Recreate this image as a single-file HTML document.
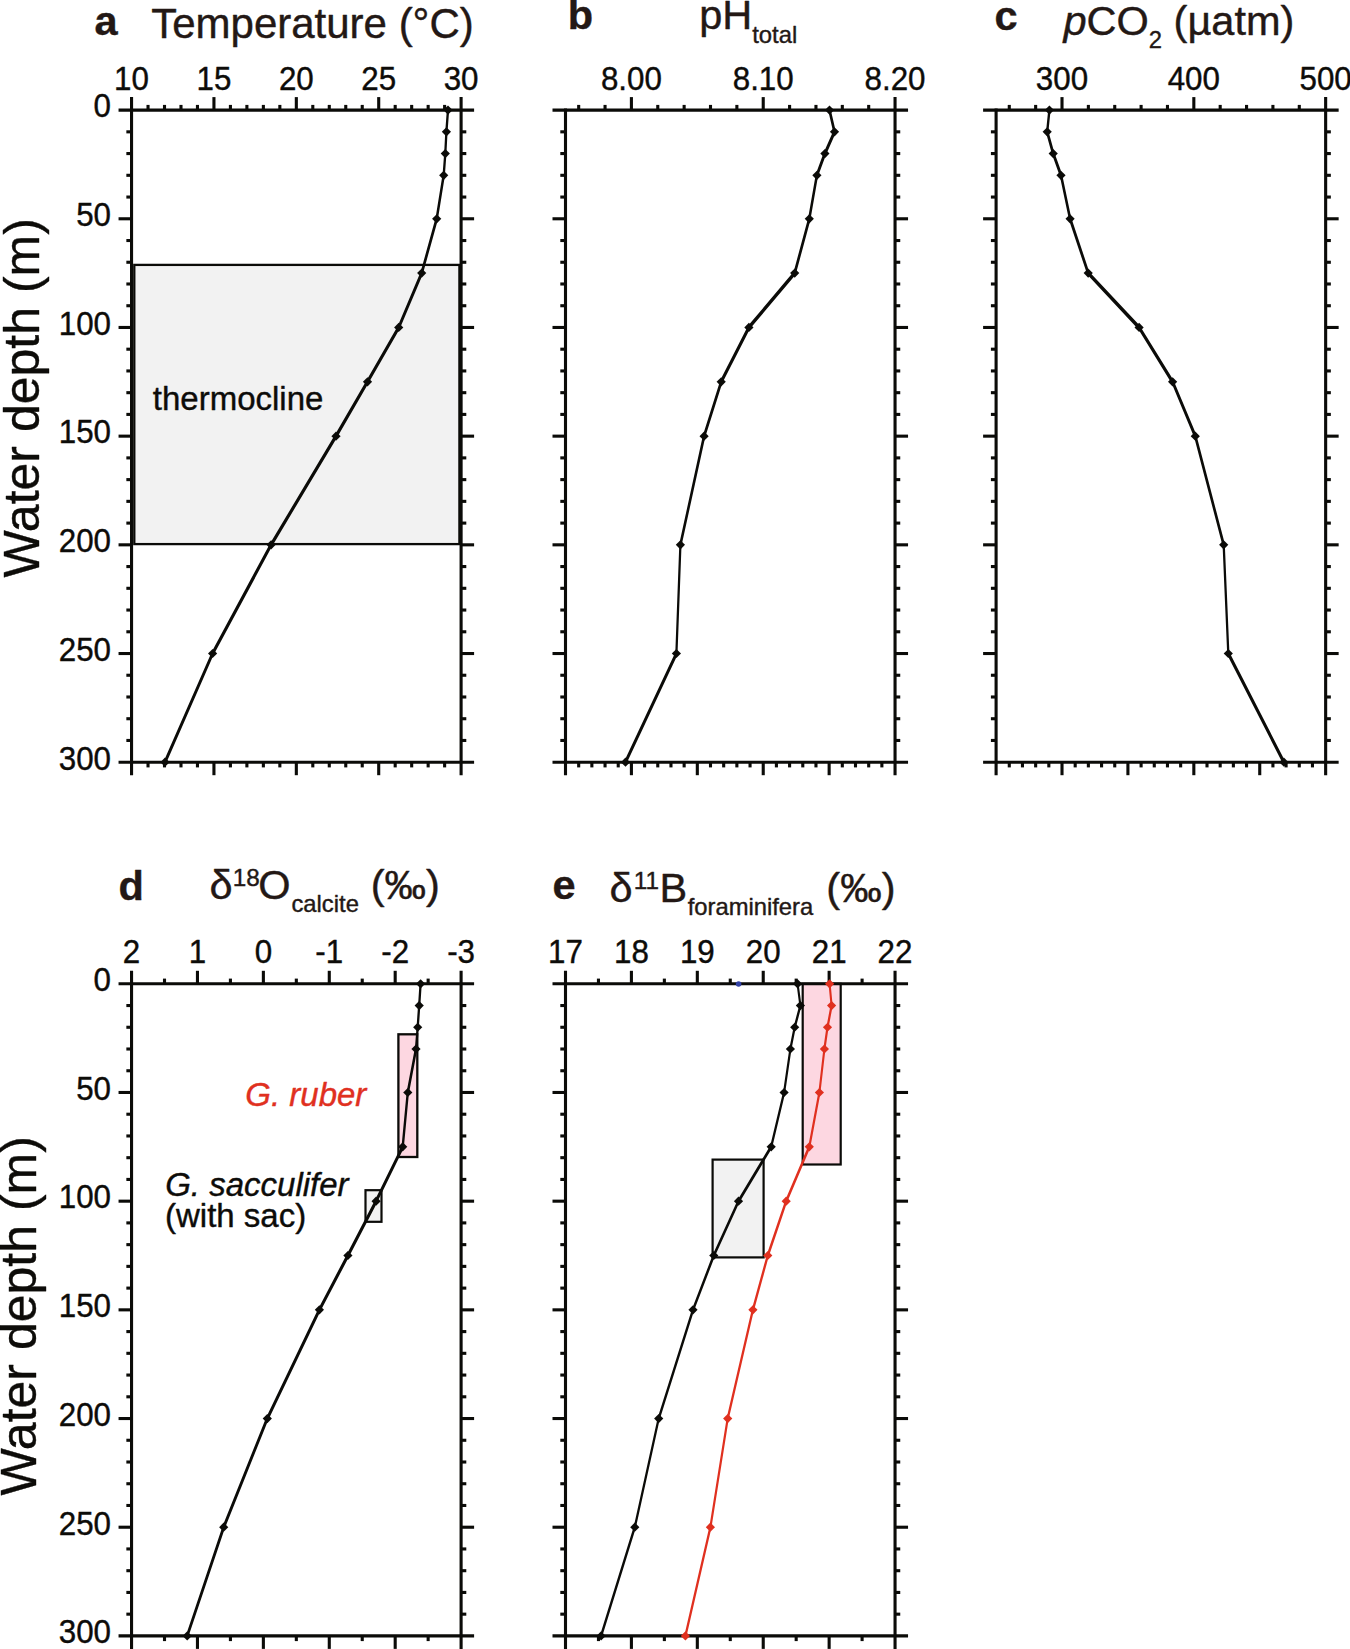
<!DOCTYPE html>
<html lang="en">
<head>
<meta charset="utf-8">
<title>Water column profiles</title>
<style>html,body{margin:0;padding:0;background:#fff}svg{display:block}text{stroke-width:0.4px;stroke-linejoin:round}</style>
</head>
<body>
<svg width="1350" height="1649" viewBox="0 0 1350 1649" font-family="'Liberation Sans', sans-serif">
<rect width="1350" height="1649" fill="#ffffff"/>
<rect x="134.3" y="264.9" width="325.1" height="279.2" fill="#f2f2f2" stroke="#0b0b08" stroke-width="2.3"/>
<rect x="398.4" y="1034.3" width="18.9" height="122.7" fill="#fdd7e1" stroke="#0b0b08" stroke-width="2.3"/>
<rect x="365.5" y="1190.2" width="16" height="31.6" fill="#f2f2f2" stroke="#0b0b08" stroke-width="2.2"/>
<rect x="802.7" y="983.8" width="38" height="180.7" fill="#fdd7e1" stroke="#0b0b08" stroke-width="2.2"/>
<rect x="712.6" y="1159.6" width="51" height="97.8" fill="#f2f2f2" stroke="#0b0b08" stroke-width="2.2"/>
<line x1="118.55" y1="110.1" x2="474.1" y2="110.1" stroke="#0b0b08" stroke-width="3.1"/>
<line x1="118.55" y1="762.2" x2="474.1" y2="762.2" stroke="#0b0b08" stroke-width="3.1"/>
<line x1="131.55" y1="97.1" x2="131.55" y2="775.2" stroke="#0b0b08" stroke-width="3.1"/>
<line x1="461.1" y1="97.1" x2="461.1" y2="775.2" stroke="#0b0b08" stroke-width="3.1"/>
<line x1="213.94" y1="97.1" x2="213.94" y2="110.1" stroke="#0b0b08" stroke-width="3.1"/>
<line x1="296.33" y1="97.1" x2="296.33" y2="110.1" stroke="#0b0b08" stroke-width="3.1"/>
<line x1="378.71" y1="97.1" x2="378.71" y2="110.1" stroke="#0b0b08" stroke-width="3.1"/>
<line x1="148.03" y1="104.9" x2="148.03" y2="110.1" stroke="#0b0b08" stroke-width="3.1"/>
<line x1="164.51" y1="104.9" x2="164.51" y2="110.1" stroke="#0b0b08" stroke-width="3.1"/>
<line x1="180.98" y1="104.9" x2="180.98" y2="110.1" stroke="#0b0b08" stroke-width="3.1"/>
<line x1="197.46" y1="104.9" x2="197.46" y2="110.1" stroke="#0b0b08" stroke-width="3.1"/>
<line x1="230.42" y1="104.9" x2="230.42" y2="110.1" stroke="#0b0b08" stroke-width="3.1"/>
<line x1="246.89" y1="104.9" x2="246.89" y2="110.1" stroke="#0b0b08" stroke-width="3.1"/>
<line x1="263.37" y1="104.9" x2="263.37" y2="110.1" stroke="#0b0b08" stroke-width="3.1"/>
<line x1="279.85" y1="104.9" x2="279.85" y2="110.1" stroke="#0b0b08" stroke-width="3.1"/>
<line x1="312.8" y1="104.9" x2="312.8" y2="110.1" stroke="#0b0b08" stroke-width="3.1"/>
<line x1="329.28" y1="104.9" x2="329.28" y2="110.1" stroke="#0b0b08" stroke-width="3.1"/>
<line x1="345.76" y1="104.9" x2="345.76" y2="110.1" stroke="#0b0b08" stroke-width="3.1"/>
<line x1="362.24" y1="104.9" x2="362.24" y2="110.1" stroke="#0b0b08" stroke-width="3.1"/>
<line x1="395.19" y1="104.9" x2="395.19" y2="110.1" stroke="#0b0b08" stroke-width="3.1"/>
<line x1="411.67" y1="104.9" x2="411.67" y2="110.1" stroke="#0b0b08" stroke-width="3.1"/>
<line x1="428.15" y1="104.9" x2="428.15" y2="110.1" stroke="#0b0b08" stroke-width="3.1"/>
<line x1="444.62" y1="104.9" x2="444.62" y2="110.1" stroke="#0b0b08" stroke-width="3.1"/>
<line x1="213.94" y1="762.2" x2="213.94" y2="775.2" stroke="#0b0b08" stroke-width="3.1"/>
<line x1="296.33" y1="762.2" x2="296.33" y2="775.2" stroke="#0b0b08" stroke-width="3.1"/>
<line x1="378.71" y1="762.2" x2="378.71" y2="775.2" stroke="#0b0b08" stroke-width="3.1"/>
<line x1="148.03" y1="762.2" x2="148.03" y2="767.4" stroke="#0b0b08" stroke-width="3.1"/>
<line x1="164.51" y1="762.2" x2="164.51" y2="767.4" stroke="#0b0b08" stroke-width="3.1"/>
<line x1="180.98" y1="762.2" x2="180.98" y2="767.4" stroke="#0b0b08" stroke-width="3.1"/>
<line x1="197.46" y1="762.2" x2="197.46" y2="767.4" stroke="#0b0b08" stroke-width="3.1"/>
<line x1="230.42" y1="762.2" x2="230.42" y2="767.4" stroke="#0b0b08" stroke-width="3.1"/>
<line x1="246.89" y1="762.2" x2="246.89" y2="767.4" stroke="#0b0b08" stroke-width="3.1"/>
<line x1="263.37" y1="762.2" x2="263.37" y2="767.4" stroke="#0b0b08" stroke-width="3.1"/>
<line x1="279.85" y1="762.2" x2="279.85" y2="767.4" stroke="#0b0b08" stroke-width="3.1"/>
<line x1="312.8" y1="762.2" x2="312.8" y2="767.4" stroke="#0b0b08" stroke-width="3.1"/>
<line x1="329.28" y1="762.2" x2="329.28" y2="767.4" stroke="#0b0b08" stroke-width="3.1"/>
<line x1="345.76" y1="762.2" x2="345.76" y2="767.4" stroke="#0b0b08" stroke-width="3.1"/>
<line x1="362.24" y1="762.2" x2="362.24" y2="767.4" stroke="#0b0b08" stroke-width="3.1"/>
<line x1="395.19" y1="762.2" x2="395.19" y2="767.4" stroke="#0b0b08" stroke-width="3.1"/>
<line x1="411.67" y1="762.2" x2="411.67" y2="767.4" stroke="#0b0b08" stroke-width="3.1"/>
<line x1="428.15" y1="762.2" x2="428.15" y2="767.4" stroke="#0b0b08" stroke-width="3.1"/>
<line x1="444.62" y1="762.2" x2="444.62" y2="767.4" stroke="#0b0b08" stroke-width="3.1"/>
<line x1="126.35" y1="131.84" x2="131.55" y2="131.84" stroke="#0b0b08" stroke-width="3.1"/>
<line x1="461.1" y1="131.84" x2="466.3" y2="131.84" stroke="#0b0b08" stroke-width="3.1"/>
<line x1="126.35" y1="153.57" x2="131.55" y2="153.57" stroke="#0b0b08" stroke-width="3.1"/>
<line x1="461.1" y1="153.57" x2="466.3" y2="153.57" stroke="#0b0b08" stroke-width="3.1"/>
<line x1="126.35" y1="175.31" x2="131.55" y2="175.31" stroke="#0b0b08" stroke-width="3.1"/>
<line x1="461.1" y1="175.31" x2="466.3" y2="175.31" stroke="#0b0b08" stroke-width="3.1"/>
<line x1="126.35" y1="197.05" x2="131.55" y2="197.05" stroke="#0b0b08" stroke-width="3.1"/>
<line x1="461.1" y1="197.05" x2="466.3" y2="197.05" stroke="#0b0b08" stroke-width="3.1"/>
<line x1="118.55" y1="218.78" x2="131.55" y2="218.78" stroke="#0b0b08" stroke-width="3.1"/>
<line x1="461.1" y1="218.78" x2="474.1" y2="218.78" stroke="#0b0b08" stroke-width="3.1"/>
<line x1="126.35" y1="240.52" x2="131.55" y2="240.52" stroke="#0b0b08" stroke-width="3.1"/>
<line x1="461.1" y1="240.52" x2="466.3" y2="240.52" stroke="#0b0b08" stroke-width="3.1"/>
<line x1="126.35" y1="262.26" x2="131.55" y2="262.26" stroke="#0b0b08" stroke-width="3.1"/>
<line x1="461.1" y1="262.26" x2="466.3" y2="262.26" stroke="#0b0b08" stroke-width="3.1"/>
<line x1="126.35" y1="283.99" x2="131.55" y2="283.99" stroke="#0b0b08" stroke-width="3.1"/>
<line x1="461.1" y1="283.99" x2="466.3" y2="283.99" stroke="#0b0b08" stroke-width="3.1"/>
<line x1="126.35" y1="305.73" x2="131.55" y2="305.73" stroke="#0b0b08" stroke-width="3.1"/>
<line x1="461.1" y1="305.73" x2="466.3" y2="305.73" stroke="#0b0b08" stroke-width="3.1"/>
<line x1="118.55" y1="327.47" x2="131.55" y2="327.47" stroke="#0b0b08" stroke-width="3.1"/>
<line x1="461.1" y1="327.47" x2="474.1" y2="327.47" stroke="#0b0b08" stroke-width="3.1"/>
<line x1="126.35" y1="349.2" x2="131.55" y2="349.2" stroke="#0b0b08" stroke-width="3.1"/>
<line x1="461.1" y1="349.2" x2="466.3" y2="349.2" stroke="#0b0b08" stroke-width="3.1"/>
<line x1="126.35" y1="370.94" x2="131.55" y2="370.94" stroke="#0b0b08" stroke-width="3.1"/>
<line x1="461.1" y1="370.94" x2="466.3" y2="370.94" stroke="#0b0b08" stroke-width="3.1"/>
<line x1="126.35" y1="392.68" x2="131.55" y2="392.68" stroke="#0b0b08" stroke-width="3.1"/>
<line x1="461.1" y1="392.68" x2="466.3" y2="392.68" stroke="#0b0b08" stroke-width="3.1"/>
<line x1="126.35" y1="414.41" x2="131.55" y2="414.41" stroke="#0b0b08" stroke-width="3.1"/>
<line x1="461.1" y1="414.41" x2="466.3" y2="414.41" stroke="#0b0b08" stroke-width="3.1"/>
<line x1="118.55" y1="436.15" x2="131.55" y2="436.15" stroke="#0b0b08" stroke-width="3.1"/>
<line x1="461.1" y1="436.15" x2="474.1" y2="436.15" stroke="#0b0b08" stroke-width="3.1"/>
<line x1="126.35" y1="457.89" x2="131.55" y2="457.89" stroke="#0b0b08" stroke-width="3.1"/>
<line x1="461.1" y1="457.89" x2="466.3" y2="457.89" stroke="#0b0b08" stroke-width="3.1"/>
<line x1="126.35" y1="479.62" x2="131.55" y2="479.62" stroke="#0b0b08" stroke-width="3.1"/>
<line x1="461.1" y1="479.62" x2="466.3" y2="479.62" stroke="#0b0b08" stroke-width="3.1"/>
<line x1="126.35" y1="501.36" x2="131.55" y2="501.36" stroke="#0b0b08" stroke-width="3.1"/>
<line x1="461.1" y1="501.36" x2="466.3" y2="501.36" stroke="#0b0b08" stroke-width="3.1"/>
<line x1="126.35" y1="523.1" x2="131.55" y2="523.1" stroke="#0b0b08" stroke-width="3.1"/>
<line x1="461.1" y1="523.1" x2="466.3" y2="523.1" stroke="#0b0b08" stroke-width="3.1"/>
<line x1="118.55" y1="544.83" x2="131.55" y2="544.83" stroke="#0b0b08" stroke-width="3.1"/>
<line x1="461.1" y1="544.83" x2="474.1" y2="544.83" stroke="#0b0b08" stroke-width="3.1"/>
<line x1="126.35" y1="566.57" x2="131.55" y2="566.57" stroke="#0b0b08" stroke-width="3.1"/>
<line x1="461.1" y1="566.57" x2="466.3" y2="566.57" stroke="#0b0b08" stroke-width="3.1"/>
<line x1="126.35" y1="588.31" x2="131.55" y2="588.31" stroke="#0b0b08" stroke-width="3.1"/>
<line x1="461.1" y1="588.31" x2="466.3" y2="588.31" stroke="#0b0b08" stroke-width="3.1"/>
<line x1="126.35" y1="610.04" x2="131.55" y2="610.04" stroke="#0b0b08" stroke-width="3.1"/>
<line x1="461.1" y1="610.04" x2="466.3" y2="610.04" stroke="#0b0b08" stroke-width="3.1"/>
<line x1="126.35" y1="631.78" x2="131.55" y2="631.78" stroke="#0b0b08" stroke-width="3.1"/>
<line x1="461.1" y1="631.78" x2="466.3" y2="631.78" stroke="#0b0b08" stroke-width="3.1"/>
<line x1="118.55" y1="653.52" x2="131.55" y2="653.52" stroke="#0b0b08" stroke-width="3.1"/>
<line x1="461.1" y1="653.52" x2="474.1" y2="653.52" stroke="#0b0b08" stroke-width="3.1"/>
<line x1="126.35" y1="675.25" x2="131.55" y2="675.25" stroke="#0b0b08" stroke-width="3.1"/>
<line x1="461.1" y1="675.25" x2="466.3" y2="675.25" stroke="#0b0b08" stroke-width="3.1"/>
<line x1="126.35" y1="696.99" x2="131.55" y2="696.99" stroke="#0b0b08" stroke-width="3.1"/>
<line x1="461.1" y1="696.99" x2="466.3" y2="696.99" stroke="#0b0b08" stroke-width="3.1"/>
<line x1="126.35" y1="718.73" x2="131.55" y2="718.73" stroke="#0b0b08" stroke-width="3.1"/>
<line x1="461.1" y1="718.73" x2="466.3" y2="718.73" stroke="#0b0b08" stroke-width="3.1"/>
<line x1="126.35" y1="740.46" x2="131.55" y2="740.46" stroke="#0b0b08" stroke-width="3.1"/>
<line x1="461.1" y1="740.46" x2="466.3" y2="740.46" stroke="#0b0b08" stroke-width="3.1"/>
<text transform="translate(131.55 89.7) scale(0.95 1)" text-anchor="middle" font-size="33" fill="#0d0c09" stroke="#0d0c09">10</text>
<text transform="translate(213.94 89.7) scale(0.95 1)" text-anchor="middle" font-size="33" fill="#0d0c09" stroke="#0d0c09">15</text>
<text transform="translate(296.33 89.7) scale(0.95 1)" text-anchor="middle" font-size="33" fill="#0d0c09" stroke="#0d0c09">20</text>
<text transform="translate(378.71 89.7) scale(0.95 1)" text-anchor="middle" font-size="33" fill="#0d0c09" stroke="#0d0c09">25</text>
<text transform="translate(461.1 89.7) scale(0.95 1)" text-anchor="middle" font-size="33" fill="#0d0c09" stroke="#0d0c09">30</text>
<text transform="translate(111 117.4) scale(0.95 1)" text-anchor="end" font-size="33" fill="#0d0c09" stroke="#0d0c09">0</text>
<text transform="translate(111 226.08) scale(0.95 1)" text-anchor="end" font-size="33" fill="#0d0c09" stroke="#0d0c09">50</text>
<text transform="translate(111 334.77) scale(0.95 1)" text-anchor="end" font-size="33" fill="#0d0c09" stroke="#0d0c09">100</text>
<text transform="translate(111 443.45) scale(0.95 1)" text-anchor="end" font-size="33" fill="#0d0c09" stroke="#0d0c09">150</text>
<text transform="translate(111 552.13) scale(0.95 1)" text-anchor="end" font-size="33" fill="#0d0c09" stroke="#0d0c09">200</text>
<text transform="translate(111 660.82) scale(0.95 1)" text-anchor="end" font-size="33" fill="#0d0c09" stroke="#0d0c09">250</text>
<text transform="translate(111 769.5) scale(0.95 1)" text-anchor="end" font-size="33" fill="#0d0c09" stroke="#0d0c09">300</text>
<line x1="552.5" y1="110.1" x2="908.05" y2="110.1" stroke="#0b0b08" stroke-width="3.1"/>
<line x1="552.5" y1="762.2" x2="908.05" y2="762.2" stroke="#0b0b08" stroke-width="3.1"/>
<line x1="565.5" y1="108.55" x2="565.5" y2="775.2" stroke="#0b0b08" stroke-width="3.1"/>
<line x1="895.05" y1="97.1" x2="895.05" y2="775.2" stroke="#0b0b08" stroke-width="3.1"/>
<line x1="631.41" y1="97.1" x2="631.41" y2="110.1" stroke="#0b0b08" stroke-width="3.1"/>
<line x1="763.23" y1="97.1" x2="763.23" y2="110.1" stroke="#0b0b08" stroke-width="3.1"/>
<line x1="578.68" y1="104.9" x2="578.68" y2="110.1" stroke="#0b0b08" stroke-width="3.1"/>
<line x1="605.05" y1="104.9" x2="605.05" y2="110.1" stroke="#0b0b08" stroke-width="3.1"/>
<line x1="657.77" y1="104.9" x2="657.77" y2="110.1" stroke="#0b0b08" stroke-width="3.1"/>
<line x1="684.14" y1="104.9" x2="684.14" y2="110.1" stroke="#0b0b08" stroke-width="3.1"/>
<line x1="710.5" y1="104.9" x2="710.5" y2="110.1" stroke="#0b0b08" stroke-width="3.1"/>
<line x1="736.87" y1="104.9" x2="736.87" y2="110.1" stroke="#0b0b08" stroke-width="3.1"/>
<line x1="789.59" y1="104.9" x2="789.59" y2="110.1" stroke="#0b0b08" stroke-width="3.1"/>
<line x1="815.96" y1="104.9" x2="815.96" y2="110.1" stroke="#0b0b08" stroke-width="3.1"/>
<line x1="842.32" y1="104.9" x2="842.32" y2="110.1" stroke="#0b0b08" stroke-width="3.1"/>
<line x1="868.69" y1="104.9" x2="868.69" y2="110.1" stroke="#0b0b08" stroke-width="3.1"/>
<line x1="631.41" y1="762.2" x2="631.41" y2="775.2" stroke="#0b0b08" stroke-width="3.1"/>
<line x1="697.32" y1="762.2" x2="697.32" y2="775.2" stroke="#0b0b08" stroke-width="3.1"/>
<line x1="763.23" y1="762.2" x2="763.23" y2="775.2" stroke="#0b0b08" stroke-width="3.1"/>
<line x1="829.14" y1="762.2" x2="829.14" y2="775.2" stroke="#0b0b08" stroke-width="3.1"/>
<line x1="578.68" y1="762.2" x2="578.68" y2="767.4" stroke="#0b0b08" stroke-width="3.1"/>
<line x1="591.86" y1="762.2" x2="591.86" y2="767.4" stroke="#0b0b08" stroke-width="3.1"/>
<line x1="605.05" y1="762.2" x2="605.05" y2="767.4" stroke="#0b0b08" stroke-width="3.1"/>
<line x1="618.23" y1="762.2" x2="618.23" y2="767.4" stroke="#0b0b08" stroke-width="3.1"/>
<line x1="644.59" y1="762.2" x2="644.59" y2="767.4" stroke="#0b0b08" stroke-width="3.1"/>
<line x1="657.77" y1="762.2" x2="657.77" y2="767.4" stroke="#0b0b08" stroke-width="3.1"/>
<line x1="670.96" y1="762.2" x2="670.96" y2="767.4" stroke="#0b0b08" stroke-width="3.1"/>
<line x1="684.14" y1="762.2" x2="684.14" y2="767.4" stroke="#0b0b08" stroke-width="3.1"/>
<line x1="710.5" y1="762.2" x2="710.5" y2="767.4" stroke="#0b0b08" stroke-width="3.1"/>
<line x1="723.68" y1="762.2" x2="723.68" y2="767.4" stroke="#0b0b08" stroke-width="3.1"/>
<line x1="736.87" y1="762.2" x2="736.87" y2="767.4" stroke="#0b0b08" stroke-width="3.1"/>
<line x1="750.05" y1="762.2" x2="750.05" y2="767.4" stroke="#0b0b08" stroke-width="3.1"/>
<line x1="776.41" y1="762.2" x2="776.41" y2="767.4" stroke="#0b0b08" stroke-width="3.1"/>
<line x1="789.59" y1="762.2" x2="789.59" y2="767.4" stroke="#0b0b08" stroke-width="3.1"/>
<line x1="802.78" y1="762.2" x2="802.78" y2="767.4" stroke="#0b0b08" stroke-width="3.1"/>
<line x1="815.96" y1="762.2" x2="815.96" y2="767.4" stroke="#0b0b08" stroke-width="3.1"/>
<line x1="842.32" y1="762.2" x2="842.32" y2="767.4" stroke="#0b0b08" stroke-width="3.1"/>
<line x1="855.5" y1="762.2" x2="855.5" y2="767.4" stroke="#0b0b08" stroke-width="3.1"/>
<line x1="868.69" y1="762.2" x2="868.69" y2="767.4" stroke="#0b0b08" stroke-width="3.1"/>
<line x1="881.87" y1="762.2" x2="881.87" y2="767.4" stroke="#0b0b08" stroke-width="3.1"/>
<line x1="560.3" y1="131.84" x2="565.5" y2="131.84" stroke="#0b0b08" stroke-width="3.1"/>
<line x1="895.05" y1="131.84" x2="900.25" y2="131.84" stroke="#0b0b08" stroke-width="3.1"/>
<line x1="560.3" y1="153.57" x2="565.5" y2="153.57" stroke="#0b0b08" stroke-width="3.1"/>
<line x1="895.05" y1="153.57" x2="900.25" y2="153.57" stroke="#0b0b08" stroke-width="3.1"/>
<line x1="560.3" y1="175.31" x2="565.5" y2="175.31" stroke="#0b0b08" stroke-width="3.1"/>
<line x1="895.05" y1="175.31" x2="900.25" y2="175.31" stroke="#0b0b08" stroke-width="3.1"/>
<line x1="560.3" y1="197.05" x2="565.5" y2="197.05" stroke="#0b0b08" stroke-width="3.1"/>
<line x1="895.05" y1="197.05" x2="900.25" y2="197.05" stroke="#0b0b08" stroke-width="3.1"/>
<line x1="552.5" y1="218.78" x2="565.5" y2="218.78" stroke="#0b0b08" stroke-width="3.1"/>
<line x1="895.05" y1="218.78" x2="908.05" y2="218.78" stroke="#0b0b08" stroke-width="3.1"/>
<line x1="560.3" y1="240.52" x2="565.5" y2="240.52" stroke="#0b0b08" stroke-width="3.1"/>
<line x1="895.05" y1="240.52" x2="900.25" y2="240.52" stroke="#0b0b08" stroke-width="3.1"/>
<line x1="560.3" y1="262.26" x2="565.5" y2="262.26" stroke="#0b0b08" stroke-width="3.1"/>
<line x1="895.05" y1="262.26" x2="900.25" y2="262.26" stroke="#0b0b08" stroke-width="3.1"/>
<line x1="560.3" y1="283.99" x2="565.5" y2="283.99" stroke="#0b0b08" stroke-width="3.1"/>
<line x1="895.05" y1="283.99" x2="900.25" y2="283.99" stroke="#0b0b08" stroke-width="3.1"/>
<line x1="560.3" y1="305.73" x2="565.5" y2="305.73" stroke="#0b0b08" stroke-width="3.1"/>
<line x1="895.05" y1="305.73" x2="900.25" y2="305.73" stroke="#0b0b08" stroke-width="3.1"/>
<line x1="552.5" y1="327.47" x2="565.5" y2="327.47" stroke="#0b0b08" stroke-width="3.1"/>
<line x1="895.05" y1="327.47" x2="908.05" y2="327.47" stroke="#0b0b08" stroke-width="3.1"/>
<line x1="560.3" y1="349.2" x2="565.5" y2="349.2" stroke="#0b0b08" stroke-width="3.1"/>
<line x1="895.05" y1="349.2" x2="900.25" y2="349.2" stroke="#0b0b08" stroke-width="3.1"/>
<line x1="560.3" y1="370.94" x2="565.5" y2="370.94" stroke="#0b0b08" stroke-width="3.1"/>
<line x1="895.05" y1="370.94" x2="900.25" y2="370.94" stroke="#0b0b08" stroke-width="3.1"/>
<line x1="560.3" y1="392.68" x2="565.5" y2="392.68" stroke="#0b0b08" stroke-width="3.1"/>
<line x1="895.05" y1="392.68" x2="900.25" y2="392.68" stroke="#0b0b08" stroke-width="3.1"/>
<line x1="560.3" y1="414.41" x2="565.5" y2="414.41" stroke="#0b0b08" stroke-width="3.1"/>
<line x1="895.05" y1="414.41" x2="900.25" y2="414.41" stroke="#0b0b08" stroke-width="3.1"/>
<line x1="552.5" y1="436.15" x2="565.5" y2="436.15" stroke="#0b0b08" stroke-width="3.1"/>
<line x1="895.05" y1="436.15" x2="908.05" y2="436.15" stroke="#0b0b08" stroke-width="3.1"/>
<line x1="560.3" y1="457.89" x2="565.5" y2="457.89" stroke="#0b0b08" stroke-width="3.1"/>
<line x1="895.05" y1="457.89" x2="900.25" y2="457.89" stroke="#0b0b08" stroke-width="3.1"/>
<line x1="560.3" y1="479.62" x2="565.5" y2="479.62" stroke="#0b0b08" stroke-width="3.1"/>
<line x1="895.05" y1="479.62" x2="900.25" y2="479.62" stroke="#0b0b08" stroke-width="3.1"/>
<line x1="560.3" y1="501.36" x2="565.5" y2="501.36" stroke="#0b0b08" stroke-width="3.1"/>
<line x1="895.05" y1="501.36" x2="900.25" y2="501.36" stroke="#0b0b08" stroke-width="3.1"/>
<line x1="560.3" y1="523.1" x2="565.5" y2="523.1" stroke="#0b0b08" stroke-width="3.1"/>
<line x1="895.05" y1="523.1" x2="900.25" y2="523.1" stroke="#0b0b08" stroke-width="3.1"/>
<line x1="552.5" y1="544.83" x2="565.5" y2="544.83" stroke="#0b0b08" stroke-width="3.1"/>
<line x1="895.05" y1="544.83" x2="908.05" y2="544.83" stroke="#0b0b08" stroke-width="3.1"/>
<line x1="560.3" y1="566.57" x2="565.5" y2="566.57" stroke="#0b0b08" stroke-width="3.1"/>
<line x1="895.05" y1="566.57" x2="900.25" y2="566.57" stroke="#0b0b08" stroke-width="3.1"/>
<line x1="560.3" y1="588.31" x2="565.5" y2="588.31" stroke="#0b0b08" stroke-width="3.1"/>
<line x1="895.05" y1="588.31" x2="900.25" y2="588.31" stroke="#0b0b08" stroke-width="3.1"/>
<line x1="560.3" y1="610.04" x2="565.5" y2="610.04" stroke="#0b0b08" stroke-width="3.1"/>
<line x1="895.05" y1="610.04" x2="900.25" y2="610.04" stroke="#0b0b08" stroke-width="3.1"/>
<line x1="560.3" y1="631.78" x2="565.5" y2="631.78" stroke="#0b0b08" stroke-width="3.1"/>
<line x1="895.05" y1="631.78" x2="900.25" y2="631.78" stroke="#0b0b08" stroke-width="3.1"/>
<line x1="552.5" y1="653.52" x2="565.5" y2="653.52" stroke="#0b0b08" stroke-width="3.1"/>
<line x1="895.05" y1="653.52" x2="908.05" y2="653.52" stroke="#0b0b08" stroke-width="3.1"/>
<line x1="560.3" y1="675.25" x2="565.5" y2="675.25" stroke="#0b0b08" stroke-width="3.1"/>
<line x1="895.05" y1="675.25" x2="900.25" y2="675.25" stroke="#0b0b08" stroke-width="3.1"/>
<line x1="560.3" y1="696.99" x2="565.5" y2="696.99" stroke="#0b0b08" stroke-width="3.1"/>
<line x1="895.05" y1="696.99" x2="900.25" y2="696.99" stroke="#0b0b08" stroke-width="3.1"/>
<line x1="560.3" y1="718.73" x2="565.5" y2="718.73" stroke="#0b0b08" stroke-width="3.1"/>
<line x1="895.05" y1="718.73" x2="900.25" y2="718.73" stroke="#0b0b08" stroke-width="3.1"/>
<line x1="560.3" y1="740.46" x2="565.5" y2="740.46" stroke="#0b0b08" stroke-width="3.1"/>
<line x1="895.05" y1="740.46" x2="900.25" y2="740.46" stroke="#0b0b08" stroke-width="3.1"/>
<text transform="translate(631.41 89.7) scale(0.95 1)" text-anchor="middle" font-size="33" fill="#0d0c09" stroke="#0d0c09">8.00</text>
<text transform="translate(763.23 89.7) scale(0.95 1)" text-anchor="middle" font-size="33" fill="#0d0c09" stroke="#0d0c09">8.10</text>
<text transform="translate(895.05 89.7) scale(0.95 1)" text-anchor="middle" font-size="33" fill="#0d0c09" stroke="#0d0c09">8.20</text>
<line x1="983.1" y1="110.1" x2="1338.65" y2="110.1" stroke="#0b0b08" stroke-width="3.1"/>
<line x1="983.1" y1="762.2" x2="1338.65" y2="762.2" stroke="#0b0b08" stroke-width="3.1"/>
<line x1="996.1" y1="108.55" x2="996.1" y2="775.2" stroke="#0b0b08" stroke-width="3.1"/>
<line x1="1325.65" y1="97.1" x2="1325.65" y2="775.2" stroke="#0b0b08" stroke-width="3.1"/>
<line x1="1062.01" y1="97.1" x2="1062.01" y2="110.1" stroke="#0b0b08" stroke-width="3.1"/>
<line x1="1193.83" y1="97.1" x2="1193.83" y2="110.1" stroke="#0b0b08" stroke-width="3.1"/>
<line x1="1009.28" y1="104.9" x2="1009.28" y2="110.1" stroke="#0b0b08" stroke-width="3.1"/>
<line x1="1035.65" y1="104.9" x2="1035.65" y2="110.1" stroke="#0b0b08" stroke-width="3.1"/>
<line x1="1088.37" y1="104.9" x2="1088.37" y2="110.1" stroke="#0b0b08" stroke-width="3.1"/>
<line x1="1114.74" y1="104.9" x2="1114.74" y2="110.1" stroke="#0b0b08" stroke-width="3.1"/>
<line x1="1141.1" y1="104.9" x2="1141.1" y2="110.1" stroke="#0b0b08" stroke-width="3.1"/>
<line x1="1167.47" y1="104.9" x2="1167.47" y2="110.1" stroke="#0b0b08" stroke-width="3.1"/>
<line x1="1220.19" y1="104.9" x2="1220.19" y2="110.1" stroke="#0b0b08" stroke-width="3.1"/>
<line x1="1246.56" y1="104.9" x2="1246.56" y2="110.1" stroke="#0b0b08" stroke-width="3.1"/>
<line x1="1272.92" y1="104.9" x2="1272.92" y2="110.1" stroke="#0b0b08" stroke-width="3.1"/>
<line x1="1299.29" y1="104.9" x2="1299.29" y2="110.1" stroke="#0b0b08" stroke-width="3.1"/>
<line x1="1062.01" y1="762.2" x2="1062.01" y2="775.2" stroke="#0b0b08" stroke-width="3.1"/>
<line x1="1127.92" y1="762.2" x2="1127.92" y2="775.2" stroke="#0b0b08" stroke-width="3.1"/>
<line x1="1193.83" y1="762.2" x2="1193.83" y2="775.2" stroke="#0b0b08" stroke-width="3.1"/>
<line x1="1259.74" y1="762.2" x2="1259.74" y2="775.2" stroke="#0b0b08" stroke-width="3.1"/>
<line x1="1009.28" y1="762.2" x2="1009.28" y2="767.4" stroke="#0b0b08" stroke-width="3.1"/>
<line x1="1022.46" y1="762.2" x2="1022.46" y2="767.4" stroke="#0b0b08" stroke-width="3.1"/>
<line x1="1035.65" y1="762.2" x2="1035.65" y2="767.4" stroke="#0b0b08" stroke-width="3.1"/>
<line x1="1048.83" y1="762.2" x2="1048.83" y2="767.4" stroke="#0b0b08" stroke-width="3.1"/>
<line x1="1075.19" y1="762.2" x2="1075.19" y2="767.4" stroke="#0b0b08" stroke-width="3.1"/>
<line x1="1088.37" y1="762.2" x2="1088.37" y2="767.4" stroke="#0b0b08" stroke-width="3.1"/>
<line x1="1101.56" y1="762.2" x2="1101.56" y2="767.4" stroke="#0b0b08" stroke-width="3.1"/>
<line x1="1114.74" y1="762.2" x2="1114.74" y2="767.4" stroke="#0b0b08" stroke-width="3.1"/>
<line x1="1141.1" y1="762.2" x2="1141.1" y2="767.4" stroke="#0b0b08" stroke-width="3.1"/>
<line x1="1154.28" y1="762.2" x2="1154.28" y2="767.4" stroke="#0b0b08" stroke-width="3.1"/>
<line x1="1167.47" y1="762.2" x2="1167.47" y2="767.4" stroke="#0b0b08" stroke-width="3.1"/>
<line x1="1180.65" y1="762.2" x2="1180.65" y2="767.4" stroke="#0b0b08" stroke-width="3.1"/>
<line x1="1207.01" y1="762.2" x2="1207.01" y2="767.4" stroke="#0b0b08" stroke-width="3.1"/>
<line x1="1220.19" y1="762.2" x2="1220.19" y2="767.4" stroke="#0b0b08" stroke-width="3.1"/>
<line x1="1233.38" y1="762.2" x2="1233.38" y2="767.4" stroke="#0b0b08" stroke-width="3.1"/>
<line x1="1246.56" y1="762.2" x2="1246.56" y2="767.4" stroke="#0b0b08" stroke-width="3.1"/>
<line x1="1272.92" y1="762.2" x2="1272.92" y2="767.4" stroke="#0b0b08" stroke-width="3.1"/>
<line x1="1286.1" y1="762.2" x2="1286.1" y2="767.4" stroke="#0b0b08" stroke-width="3.1"/>
<line x1="1299.29" y1="762.2" x2="1299.29" y2="767.4" stroke="#0b0b08" stroke-width="3.1"/>
<line x1="1312.47" y1="762.2" x2="1312.47" y2="767.4" stroke="#0b0b08" stroke-width="3.1"/>
<line x1="990.9" y1="131.84" x2="996.1" y2="131.84" stroke="#0b0b08" stroke-width="3.1"/>
<line x1="1325.65" y1="131.84" x2="1330.85" y2="131.84" stroke="#0b0b08" stroke-width="3.1"/>
<line x1="990.9" y1="153.57" x2="996.1" y2="153.57" stroke="#0b0b08" stroke-width="3.1"/>
<line x1="1325.65" y1="153.57" x2="1330.85" y2="153.57" stroke="#0b0b08" stroke-width="3.1"/>
<line x1="990.9" y1="175.31" x2="996.1" y2="175.31" stroke="#0b0b08" stroke-width="3.1"/>
<line x1="1325.65" y1="175.31" x2="1330.85" y2="175.31" stroke="#0b0b08" stroke-width="3.1"/>
<line x1="990.9" y1="197.05" x2="996.1" y2="197.05" stroke="#0b0b08" stroke-width="3.1"/>
<line x1="1325.65" y1="197.05" x2="1330.85" y2="197.05" stroke="#0b0b08" stroke-width="3.1"/>
<line x1="983.1" y1="218.78" x2="996.1" y2="218.78" stroke="#0b0b08" stroke-width="3.1"/>
<line x1="1325.65" y1="218.78" x2="1338.65" y2="218.78" stroke="#0b0b08" stroke-width="3.1"/>
<line x1="990.9" y1="240.52" x2="996.1" y2="240.52" stroke="#0b0b08" stroke-width="3.1"/>
<line x1="1325.65" y1="240.52" x2="1330.85" y2="240.52" stroke="#0b0b08" stroke-width="3.1"/>
<line x1="990.9" y1="262.26" x2="996.1" y2="262.26" stroke="#0b0b08" stroke-width="3.1"/>
<line x1="1325.65" y1="262.26" x2="1330.85" y2="262.26" stroke="#0b0b08" stroke-width="3.1"/>
<line x1="990.9" y1="283.99" x2="996.1" y2="283.99" stroke="#0b0b08" stroke-width="3.1"/>
<line x1="1325.65" y1="283.99" x2="1330.85" y2="283.99" stroke="#0b0b08" stroke-width="3.1"/>
<line x1="990.9" y1="305.73" x2="996.1" y2="305.73" stroke="#0b0b08" stroke-width="3.1"/>
<line x1="1325.65" y1="305.73" x2="1330.85" y2="305.73" stroke="#0b0b08" stroke-width="3.1"/>
<line x1="983.1" y1="327.47" x2="996.1" y2="327.47" stroke="#0b0b08" stroke-width="3.1"/>
<line x1="1325.65" y1="327.47" x2="1338.65" y2="327.47" stroke="#0b0b08" stroke-width="3.1"/>
<line x1="990.9" y1="349.2" x2="996.1" y2="349.2" stroke="#0b0b08" stroke-width="3.1"/>
<line x1="1325.65" y1="349.2" x2="1330.85" y2="349.2" stroke="#0b0b08" stroke-width="3.1"/>
<line x1="990.9" y1="370.94" x2="996.1" y2="370.94" stroke="#0b0b08" stroke-width="3.1"/>
<line x1="1325.65" y1="370.94" x2="1330.85" y2="370.94" stroke="#0b0b08" stroke-width="3.1"/>
<line x1="990.9" y1="392.68" x2="996.1" y2="392.68" stroke="#0b0b08" stroke-width="3.1"/>
<line x1="1325.65" y1="392.68" x2="1330.85" y2="392.68" stroke="#0b0b08" stroke-width="3.1"/>
<line x1="990.9" y1="414.41" x2="996.1" y2="414.41" stroke="#0b0b08" stroke-width="3.1"/>
<line x1="1325.65" y1="414.41" x2="1330.85" y2="414.41" stroke="#0b0b08" stroke-width="3.1"/>
<line x1="983.1" y1="436.15" x2="996.1" y2="436.15" stroke="#0b0b08" stroke-width="3.1"/>
<line x1="1325.65" y1="436.15" x2="1338.65" y2="436.15" stroke="#0b0b08" stroke-width="3.1"/>
<line x1="990.9" y1="457.89" x2="996.1" y2="457.89" stroke="#0b0b08" stroke-width="3.1"/>
<line x1="1325.65" y1="457.89" x2="1330.85" y2="457.89" stroke="#0b0b08" stroke-width="3.1"/>
<line x1="990.9" y1="479.62" x2="996.1" y2="479.62" stroke="#0b0b08" stroke-width="3.1"/>
<line x1="1325.65" y1="479.62" x2="1330.85" y2="479.62" stroke="#0b0b08" stroke-width="3.1"/>
<line x1="990.9" y1="501.36" x2="996.1" y2="501.36" stroke="#0b0b08" stroke-width="3.1"/>
<line x1="1325.65" y1="501.36" x2="1330.85" y2="501.36" stroke="#0b0b08" stroke-width="3.1"/>
<line x1="990.9" y1="523.1" x2="996.1" y2="523.1" stroke="#0b0b08" stroke-width="3.1"/>
<line x1="1325.65" y1="523.1" x2="1330.85" y2="523.1" stroke="#0b0b08" stroke-width="3.1"/>
<line x1="983.1" y1="544.83" x2="996.1" y2="544.83" stroke="#0b0b08" stroke-width="3.1"/>
<line x1="1325.65" y1="544.83" x2="1338.65" y2="544.83" stroke="#0b0b08" stroke-width="3.1"/>
<line x1="990.9" y1="566.57" x2="996.1" y2="566.57" stroke="#0b0b08" stroke-width="3.1"/>
<line x1="1325.65" y1="566.57" x2="1330.85" y2="566.57" stroke="#0b0b08" stroke-width="3.1"/>
<line x1="990.9" y1="588.31" x2="996.1" y2="588.31" stroke="#0b0b08" stroke-width="3.1"/>
<line x1="1325.65" y1="588.31" x2="1330.85" y2="588.31" stroke="#0b0b08" stroke-width="3.1"/>
<line x1="990.9" y1="610.04" x2="996.1" y2="610.04" stroke="#0b0b08" stroke-width="3.1"/>
<line x1="1325.65" y1="610.04" x2="1330.85" y2="610.04" stroke="#0b0b08" stroke-width="3.1"/>
<line x1="990.9" y1="631.78" x2="996.1" y2="631.78" stroke="#0b0b08" stroke-width="3.1"/>
<line x1="1325.65" y1="631.78" x2="1330.85" y2="631.78" stroke="#0b0b08" stroke-width="3.1"/>
<line x1="983.1" y1="653.52" x2="996.1" y2="653.52" stroke="#0b0b08" stroke-width="3.1"/>
<line x1="1325.65" y1="653.52" x2="1338.65" y2="653.52" stroke="#0b0b08" stroke-width="3.1"/>
<line x1="990.9" y1="675.25" x2="996.1" y2="675.25" stroke="#0b0b08" stroke-width="3.1"/>
<line x1="1325.65" y1="675.25" x2="1330.85" y2="675.25" stroke="#0b0b08" stroke-width="3.1"/>
<line x1="990.9" y1="696.99" x2="996.1" y2="696.99" stroke="#0b0b08" stroke-width="3.1"/>
<line x1="1325.65" y1="696.99" x2="1330.85" y2="696.99" stroke="#0b0b08" stroke-width="3.1"/>
<line x1="990.9" y1="718.73" x2="996.1" y2="718.73" stroke="#0b0b08" stroke-width="3.1"/>
<line x1="1325.65" y1="718.73" x2="1330.85" y2="718.73" stroke="#0b0b08" stroke-width="3.1"/>
<line x1="990.9" y1="740.46" x2="996.1" y2="740.46" stroke="#0b0b08" stroke-width="3.1"/>
<line x1="1325.65" y1="740.46" x2="1330.85" y2="740.46" stroke="#0b0b08" stroke-width="3.1"/>
<text transform="translate(1062.01 89.7) scale(0.95 1)" text-anchor="middle" font-size="33" fill="#0d0c09" stroke="#0d0c09">300</text>
<text transform="translate(1193.83 89.7) scale(0.95 1)" text-anchor="middle" font-size="33" fill="#0d0c09" stroke="#0d0c09">400</text>
<text transform="translate(1325.65 89.7) scale(0.95 1)" text-anchor="middle" font-size="33" fill="#0d0c09" stroke="#0d0c09">500</text>
<line x1="118.55" y1="983.8" x2="474.1" y2="983.8" stroke="#0b0b08" stroke-width="3.1"/>
<line x1="118.55" y1="1635.9" x2="474.1" y2="1635.9" stroke="#0b0b08" stroke-width="3.1"/>
<line x1="131.55" y1="970.8" x2="131.55" y2="1648.9" stroke="#0b0b08" stroke-width="3.1"/>
<line x1="461.1" y1="970.8" x2="461.1" y2="1648.9" stroke="#0b0b08" stroke-width="3.1"/>
<line x1="197.46" y1="970.8" x2="197.46" y2="983.8" stroke="#0b0b08" stroke-width="3.1"/>
<line x1="263.37" y1="970.8" x2="263.37" y2="983.8" stroke="#0b0b08" stroke-width="3.1"/>
<line x1="329.28" y1="970.8" x2="329.28" y2="983.8" stroke="#0b0b08" stroke-width="3.1"/>
<line x1="395.19" y1="970.8" x2="395.19" y2="983.8" stroke="#0b0b08" stroke-width="3.1"/>
<line x1="164.51" y1="978.6" x2="164.51" y2="983.8" stroke="#0b0b08" stroke-width="3.1"/>
<line x1="230.42" y1="978.6" x2="230.42" y2="983.8" stroke="#0b0b08" stroke-width="3.1"/>
<line x1="296.33" y1="978.6" x2="296.33" y2="983.8" stroke="#0b0b08" stroke-width="3.1"/>
<line x1="362.24" y1="978.6" x2="362.24" y2="983.8" stroke="#0b0b08" stroke-width="3.1"/>
<line x1="428.15" y1="978.6" x2="428.15" y2="983.8" stroke="#0b0b08" stroke-width="3.1"/>
<line x1="197.46" y1="1635.9" x2="197.46" y2="1648.9" stroke="#0b0b08" stroke-width="3.1"/>
<line x1="263.37" y1="1635.9" x2="263.37" y2="1648.9" stroke="#0b0b08" stroke-width="3.1"/>
<line x1="329.28" y1="1635.9" x2="329.28" y2="1648.9" stroke="#0b0b08" stroke-width="3.1"/>
<line x1="395.19" y1="1635.9" x2="395.19" y2="1648.9" stroke="#0b0b08" stroke-width="3.1"/>
<line x1="164.51" y1="1635.9" x2="164.51" y2="1641.1" stroke="#0b0b08" stroke-width="3.1"/>
<line x1="230.42" y1="1635.9" x2="230.42" y2="1641.1" stroke="#0b0b08" stroke-width="3.1"/>
<line x1="296.33" y1="1635.9" x2="296.33" y2="1641.1" stroke="#0b0b08" stroke-width="3.1"/>
<line x1="362.24" y1="1635.9" x2="362.24" y2="1641.1" stroke="#0b0b08" stroke-width="3.1"/>
<line x1="428.15" y1="1635.9" x2="428.15" y2="1641.1" stroke="#0b0b08" stroke-width="3.1"/>
<line x1="126.35" y1="1005.54" x2="131.55" y2="1005.54" stroke="#0b0b08" stroke-width="3.1"/>
<line x1="461.1" y1="1005.54" x2="466.3" y2="1005.54" stroke="#0b0b08" stroke-width="3.1"/>
<line x1="126.35" y1="1027.27" x2="131.55" y2="1027.27" stroke="#0b0b08" stroke-width="3.1"/>
<line x1="461.1" y1="1027.27" x2="466.3" y2="1027.27" stroke="#0b0b08" stroke-width="3.1"/>
<line x1="126.35" y1="1049.01" x2="131.55" y2="1049.01" stroke="#0b0b08" stroke-width="3.1"/>
<line x1="461.1" y1="1049.01" x2="466.3" y2="1049.01" stroke="#0b0b08" stroke-width="3.1"/>
<line x1="126.35" y1="1070.75" x2="131.55" y2="1070.75" stroke="#0b0b08" stroke-width="3.1"/>
<line x1="461.1" y1="1070.75" x2="466.3" y2="1070.75" stroke="#0b0b08" stroke-width="3.1"/>
<line x1="118.55" y1="1092.48" x2="131.55" y2="1092.48" stroke="#0b0b08" stroke-width="3.1"/>
<line x1="461.1" y1="1092.48" x2="474.1" y2="1092.48" stroke="#0b0b08" stroke-width="3.1"/>
<line x1="126.35" y1="1114.22" x2="131.55" y2="1114.22" stroke="#0b0b08" stroke-width="3.1"/>
<line x1="461.1" y1="1114.22" x2="466.3" y2="1114.22" stroke="#0b0b08" stroke-width="3.1"/>
<line x1="126.35" y1="1135.96" x2="131.55" y2="1135.96" stroke="#0b0b08" stroke-width="3.1"/>
<line x1="461.1" y1="1135.96" x2="466.3" y2="1135.96" stroke="#0b0b08" stroke-width="3.1"/>
<line x1="126.35" y1="1157.69" x2="131.55" y2="1157.69" stroke="#0b0b08" stroke-width="3.1"/>
<line x1="461.1" y1="1157.69" x2="466.3" y2="1157.69" stroke="#0b0b08" stroke-width="3.1"/>
<line x1="126.35" y1="1179.43" x2="131.55" y2="1179.43" stroke="#0b0b08" stroke-width="3.1"/>
<line x1="461.1" y1="1179.43" x2="466.3" y2="1179.43" stroke="#0b0b08" stroke-width="3.1"/>
<line x1="118.55" y1="1201.17" x2="131.55" y2="1201.17" stroke="#0b0b08" stroke-width="3.1"/>
<line x1="461.1" y1="1201.17" x2="474.1" y2="1201.17" stroke="#0b0b08" stroke-width="3.1"/>
<line x1="126.35" y1="1222.9" x2="131.55" y2="1222.9" stroke="#0b0b08" stroke-width="3.1"/>
<line x1="461.1" y1="1222.9" x2="466.3" y2="1222.9" stroke="#0b0b08" stroke-width="3.1"/>
<line x1="126.35" y1="1244.64" x2="131.55" y2="1244.64" stroke="#0b0b08" stroke-width="3.1"/>
<line x1="461.1" y1="1244.64" x2="466.3" y2="1244.64" stroke="#0b0b08" stroke-width="3.1"/>
<line x1="126.35" y1="1266.38" x2="131.55" y2="1266.38" stroke="#0b0b08" stroke-width="3.1"/>
<line x1="461.1" y1="1266.38" x2="466.3" y2="1266.38" stroke="#0b0b08" stroke-width="3.1"/>
<line x1="126.35" y1="1288.11" x2="131.55" y2="1288.11" stroke="#0b0b08" stroke-width="3.1"/>
<line x1="461.1" y1="1288.11" x2="466.3" y2="1288.11" stroke="#0b0b08" stroke-width="3.1"/>
<line x1="118.55" y1="1309.85" x2="131.55" y2="1309.85" stroke="#0b0b08" stroke-width="3.1"/>
<line x1="461.1" y1="1309.85" x2="474.1" y2="1309.85" stroke="#0b0b08" stroke-width="3.1"/>
<line x1="126.35" y1="1331.59" x2="131.55" y2="1331.59" stroke="#0b0b08" stroke-width="3.1"/>
<line x1="461.1" y1="1331.59" x2="466.3" y2="1331.59" stroke="#0b0b08" stroke-width="3.1"/>
<line x1="126.35" y1="1353.32" x2="131.55" y2="1353.32" stroke="#0b0b08" stroke-width="3.1"/>
<line x1="461.1" y1="1353.32" x2="466.3" y2="1353.32" stroke="#0b0b08" stroke-width="3.1"/>
<line x1="126.35" y1="1375.06" x2="131.55" y2="1375.06" stroke="#0b0b08" stroke-width="3.1"/>
<line x1="461.1" y1="1375.06" x2="466.3" y2="1375.06" stroke="#0b0b08" stroke-width="3.1"/>
<line x1="126.35" y1="1396.8" x2="131.55" y2="1396.8" stroke="#0b0b08" stroke-width="3.1"/>
<line x1="461.1" y1="1396.8" x2="466.3" y2="1396.8" stroke="#0b0b08" stroke-width="3.1"/>
<line x1="118.55" y1="1418.53" x2="131.55" y2="1418.53" stroke="#0b0b08" stroke-width="3.1"/>
<line x1="461.1" y1="1418.53" x2="474.1" y2="1418.53" stroke="#0b0b08" stroke-width="3.1"/>
<line x1="126.35" y1="1440.27" x2="131.55" y2="1440.27" stroke="#0b0b08" stroke-width="3.1"/>
<line x1="461.1" y1="1440.27" x2="466.3" y2="1440.27" stroke="#0b0b08" stroke-width="3.1"/>
<line x1="126.35" y1="1462.01" x2="131.55" y2="1462.01" stroke="#0b0b08" stroke-width="3.1"/>
<line x1="461.1" y1="1462.01" x2="466.3" y2="1462.01" stroke="#0b0b08" stroke-width="3.1"/>
<line x1="126.35" y1="1483.74" x2="131.55" y2="1483.74" stroke="#0b0b08" stroke-width="3.1"/>
<line x1="461.1" y1="1483.74" x2="466.3" y2="1483.74" stroke="#0b0b08" stroke-width="3.1"/>
<line x1="126.35" y1="1505.48" x2="131.55" y2="1505.48" stroke="#0b0b08" stroke-width="3.1"/>
<line x1="461.1" y1="1505.48" x2="466.3" y2="1505.48" stroke="#0b0b08" stroke-width="3.1"/>
<line x1="118.55" y1="1527.22" x2="131.55" y2="1527.22" stroke="#0b0b08" stroke-width="3.1"/>
<line x1="461.1" y1="1527.22" x2="474.1" y2="1527.22" stroke="#0b0b08" stroke-width="3.1"/>
<line x1="126.35" y1="1548.95" x2="131.55" y2="1548.95" stroke="#0b0b08" stroke-width="3.1"/>
<line x1="461.1" y1="1548.95" x2="466.3" y2="1548.95" stroke="#0b0b08" stroke-width="3.1"/>
<line x1="126.35" y1="1570.69" x2="131.55" y2="1570.69" stroke="#0b0b08" stroke-width="3.1"/>
<line x1="461.1" y1="1570.69" x2="466.3" y2="1570.69" stroke="#0b0b08" stroke-width="3.1"/>
<line x1="126.35" y1="1592.43" x2="131.55" y2="1592.43" stroke="#0b0b08" stroke-width="3.1"/>
<line x1="461.1" y1="1592.43" x2="466.3" y2="1592.43" stroke="#0b0b08" stroke-width="3.1"/>
<line x1="126.35" y1="1614.16" x2="131.55" y2="1614.16" stroke="#0b0b08" stroke-width="3.1"/>
<line x1="461.1" y1="1614.16" x2="466.3" y2="1614.16" stroke="#0b0b08" stroke-width="3.1"/>
<text transform="translate(131.55 963.4) scale(0.95 1)" text-anchor="middle" font-size="33" fill="#0d0c09" stroke="#0d0c09">2</text>
<text transform="translate(197.46 963.4) scale(0.95 1)" text-anchor="middle" font-size="33" fill="#0d0c09" stroke="#0d0c09">1</text>
<text transform="translate(263.37 963.4) scale(0.95 1)" text-anchor="middle" font-size="33" fill="#0d0c09" stroke="#0d0c09">0</text>
<text transform="translate(329.28 963.4) scale(0.95 1)" text-anchor="middle" font-size="33" fill="#0d0c09" stroke="#0d0c09">-1</text>
<text transform="translate(395.19 963.4) scale(0.95 1)" text-anchor="middle" font-size="33" fill="#0d0c09" stroke="#0d0c09">-2</text>
<text transform="translate(461.1 963.4) scale(0.95 1)" text-anchor="middle" font-size="33" fill="#0d0c09" stroke="#0d0c09">-3</text>
<text transform="translate(111 991.1) scale(0.95 1)" text-anchor="end" font-size="33" fill="#0d0c09" stroke="#0d0c09">0</text>
<text transform="translate(111 1099.78) scale(0.95 1)" text-anchor="end" font-size="33" fill="#0d0c09" stroke="#0d0c09">50</text>
<text transform="translate(111 1208.47) scale(0.95 1)" text-anchor="end" font-size="33" fill="#0d0c09" stroke="#0d0c09">100</text>
<text transform="translate(111 1317.15) scale(0.95 1)" text-anchor="end" font-size="33" fill="#0d0c09" stroke="#0d0c09">150</text>
<text transform="translate(111 1425.83) scale(0.95 1)" text-anchor="end" font-size="33" fill="#0d0c09" stroke="#0d0c09">200</text>
<text transform="translate(111 1534.52) scale(0.95 1)" text-anchor="end" font-size="33" fill="#0d0c09" stroke="#0d0c09">250</text>
<text transform="translate(111 1643.2) scale(0.95 1)" text-anchor="end" font-size="33" fill="#0d0c09" stroke="#0d0c09">300</text>
<line x1="552.5" y1="983.8" x2="908.05" y2="983.8" stroke="#0b0b08" stroke-width="3.1"/>
<line x1="552.5" y1="1635.9" x2="908.05" y2="1635.9" stroke="#0b0b08" stroke-width="3.1"/>
<line x1="565.5" y1="970.8" x2="565.5" y2="1648.9" stroke="#0b0b08" stroke-width="3.1"/>
<line x1="895.05" y1="970.8" x2="895.05" y2="1648.9" stroke="#0b0b08" stroke-width="3.1"/>
<line x1="631.41" y1="970.8" x2="631.41" y2="983.8" stroke="#0b0b08" stroke-width="3.1"/>
<line x1="697.32" y1="970.8" x2="697.32" y2="983.8" stroke="#0b0b08" stroke-width="3.1"/>
<line x1="763.23" y1="970.8" x2="763.23" y2="983.8" stroke="#0b0b08" stroke-width="3.1"/>
<line x1="829.14" y1="970.8" x2="829.14" y2="983.8" stroke="#0b0b08" stroke-width="3.1"/>
<line x1="598.46" y1="978.6" x2="598.46" y2="983.8" stroke="#0b0b08" stroke-width="3.1"/>
<line x1="664.37" y1="978.6" x2="664.37" y2="983.8" stroke="#0b0b08" stroke-width="3.1"/>
<line x1="730.27" y1="978.6" x2="730.27" y2="983.8" stroke="#0b0b08" stroke-width="3.1"/>
<line x1="796.18" y1="978.6" x2="796.18" y2="983.8" stroke="#0b0b08" stroke-width="3.1"/>
<line x1="862.1" y1="978.6" x2="862.1" y2="983.8" stroke="#0b0b08" stroke-width="3.1"/>
<line x1="631.41" y1="1635.9" x2="631.41" y2="1648.9" stroke="#0b0b08" stroke-width="3.1"/>
<line x1="697.32" y1="1635.9" x2="697.32" y2="1648.9" stroke="#0b0b08" stroke-width="3.1"/>
<line x1="763.23" y1="1635.9" x2="763.23" y2="1648.9" stroke="#0b0b08" stroke-width="3.1"/>
<line x1="829.14" y1="1635.9" x2="829.14" y2="1648.9" stroke="#0b0b08" stroke-width="3.1"/>
<line x1="598.46" y1="1635.9" x2="598.46" y2="1641.1" stroke="#0b0b08" stroke-width="3.1"/>
<line x1="664.37" y1="1635.9" x2="664.37" y2="1641.1" stroke="#0b0b08" stroke-width="3.1"/>
<line x1="730.27" y1="1635.9" x2="730.27" y2="1641.1" stroke="#0b0b08" stroke-width="3.1"/>
<line x1="796.18" y1="1635.9" x2="796.18" y2="1641.1" stroke="#0b0b08" stroke-width="3.1"/>
<line x1="862.1" y1="1635.9" x2="862.1" y2="1641.1" stroke="#0b0b08" stroke-width="3.1"/>
<line x1="560.3" y1="1005.54" x2="565.5" y2="1005.54" stroke="#0b0b08" stroke-width="3.1"/>
<line x1="895.05" y1="1005.54" x2="900.25" y2="1005.54" stroke="#0b0b08" stroke-width="3.1"/>
<line x1="560.3" y1="1027.27" x2="565.5" y2="1027.27" stroke="#0b0b08" stroke-width="3.1"/>
<line x1="895.05" y1="1027.27" x2="900.25" y2="1027.27" stroke="#0b0b08" stroke-width="3.1"/>
<line x1="560.3" y1="1049.01" x2="565.5" y2="1049.01" stroke="#0b0b08" stroke-width="3.1"/>
<line x1="895.05" y1="1049.01" x2="900.25" y2="1049.01" stroke="#0b0b08" stroke-width="3.1"/>
<line x1="560.3" y1="1070.75" x2="565.5" y2="1070.75" stroke="#0b0b08" stroke-width="3.1"/>
<line x1="895.05" y1="1070.75" x2="900.25" y2="1070.75" stroke="#0b0b08" stroke-width="3.1"/>
<line x1="552.5" y1="1092.48" x2="565.5" y2="1092.48" stroke="#0b0b08" stroke-width="3.1"/>
<line x1="895.05" y1="1092.48" x2="908.05" y2="1092.48" stroke="#0b0b08" stroke-width="3.1"/>
<line x1="560.3" y1="1114.22" x2="565.5" y2="1114.22" stroke="#0b0b08" stroke-width="3.1"/>
<line x1="895.05" y1="1114.22" x2="900.25" y2="1114.22" stroke="#0b0b08" stroke-width="3.1"/>
<line x1="560.3" y1="1135.96" x2="565.5" y2="1135.96" stroke="#0b0b08" stroke-width="3.1"/>
<line x1="895.05" y1="1135.96" x2="900.25" y2="1135.96" stroke="#0b0b08" stroke-width="3.1"/>
<line x1="560.3" y1="1157.69" x2="565.5" y2="1157.69" stroke="#0b0b08" stroke-width="3.1"/>
<line x1="895.05" y1="1157.69" x2="900.25" y2="1157.69" stroke="#0b0b08" stroke-width="3.1"/>
<line x1="560.3" y1="1179.43" x2="565.5" y2="1179.43" stroke="#0b0b08" stroke-width="3.1"/>
<line x1="895.05" y1="1179.43" x2="900.25" y2="1179.43" stroke="#0b0b08" stroke-width="3.1"/>
<line x1="552.5" y1="1201.17" x2="565.5" y2="1201.17" stroke="#0b0b08" stroke-width="3.1"/>
<line x1="895.05" y1="1201.17" x2="908.05" y2="1201.17" stroke="#0b0b08" stroke-width="3.1"/>
<line x1="560.3" y1="1222.9" x2="565.5" y2="1222.9" stroke="#0b0b08" stroke-width="3.1"/>
<line x1="895.05" y1="1222.9" x2="900.25" y2="1222.9" stroke="#0b0b08" stroke-width="3.1"/>
<line x1="560.3" y1="1244.64" x2="565.5" y2="1244.64" stroke="#0b0b08" stroke-width="3.1"/>
<line x1="895.05" y1="1244.64" x2="900.25" y2="1244.64" stroke="#0b0b08" stroke-width="3.1"/>
<line x1="560.3" y1="1266.38" x2="565.5" y2="1266.38" stroke="#0b0b08" stroke-width="3.1"/>
<line x1="895.05" y1="1266.38" x2="900.25" y2="1266.38" stroke="#0b0b08" stroke-width="3.1"/>
<line x1="560.3" y1="1288.11" x2="565.5" y2="1288.11" stroke="#0b0b08" stroke-width="3.1"/>
<line x1="895.05" y1="1288.11" x2="900.25" y2="1288.11" stroke="#0b0b08" stroke-width="3.1"/>
<line x1="552.5" y1="1309.85" x2="565.5" y2="1309.85" stroke="#0b0b08" stroke-width="3.1"/>
<line x1="895.05" y1="1309.85" x2="908.05" y2="1309.85" stroke="#0b0b08" stroke-width="3.1"/>
<line x1="560.3" y1="1331.59" x2="565.5" y2="1331.59" stroke="#0b0b08" stroke-width="3.1"/>
<line x1="895.05" y1="1331.59" x2="900.25" y2="1331.59" stroke="#0b0b08" stroke-width="3.1"/>
<line x1="560.3" y1="1353.32" x2="565.5" y2="1353.32" stroke="#0b0b08" stroke-width="3.1"/>
<line x1="895.05" y1="1353.32" x2="900.25" y2="1353.32" stroke="#0b0b08" stroke-width="3.1"/>
<line x1="560.3" y1="1375.06" x2="565.5" y2="1375.06" stroke="#0b0b08" stroke-width="3.1"/>
<line x1="895.05" y1="1375.06" x2="900.25" y2="1375.06" stroke="#0b0b08" stroke-width="3.1"/>
<line x1="560.3" y1="1396.8" x2="565.5" y2="1396.8" stroke="#0b0b08" stroke-width="3.1"/>
<line x1="895.05" y1="1396.8" x2="900.25" y2="1396.8" stroke="#0b0b08" stroke-width="3.1"/>
<line x1="552.5" y1="1418.53" x2="565.5" y2="1418.53" stroke="#0b0b08" stroke-width="3.1"/>
<line x1="895.05" y1="1418.53" x2="908.05" y2="1418.53" stroke="#0b0b08" stroke-width="3.1"/>
<line x1="560.3" y1="1440.27" x2="565.5" y2="1440.27" stroke="#0b0b08" stroke-width="3.1"/>
<line x1="895.05" y1="1440.27" x2="900.25" y2="1440.27" stroke="#0b0b08" stroke-width="3.1"/>
<line x1="560.3" y1="1462.01" x2="565.5" y2="1462.01" stroke="#0b0b08" stroke-width="3.1"/>
<line x1="895.05" y1="1462.01" x2="900.25" y2="1462.01" stroke="#0b0b08" stroke-width="3.1"/>
<line x1="560.3" y1="1483.74" x2="565.5" y2="1483.74" stroke="#0b0b08" stroke-width="3.1"/>
<line x1="895.05" y1="1483.74" x2="900.25" y2="1483.74" stroke="#0b0b08" stroke-width="3.1"/>
<line x1="560.3" y1="1505.48" x2="565.5" y2="1505.48" stroke="#0b0b08" stroke-width="3.1"/>
<line x1="895.05" y1="1505.48" x2="900.25" y2="1505.48" stroke="#0b0b08" stroke-width="3.1"/>
<line x1="552.5" y1="1527.22" x2="565.5" y2="1527.22" stroke="#0b0b08" stroke-width="3.1"/>
<line x1="895.05" y1="1527.22" x2="908.05" y2="1527.22" stroke="#0b0b08" stroke-width="3.1"/>
<line x1="560.3" y1="1548.95" x2="565.5" y2="1548.95" stroke="#0b0b08" stroke-width="3.1"/>
<line x1="895.05" y1="1548.95" x2="900.25" y2="1548.95" stroke="#0b0b08" stroke-width="3.1"/>
<line x1="560.3" y1="1570.69" x2="565.5" y2="1570.69" stroke="#0b0b08" stroke-width="3.1"/>
<line x1="895.05" y1="1570.69" x2="900.25" y2="1570.69" stroke="#0b0b08" stroke-width="3.1"/>
<line x1="560.3" y1="1592.43" x2="565.5" y2="1592.43" stroke="#0b0b08" stroke-width="3.1"/>
<line x1="895.05" y1="1592.43" x2="900.25" y2="1592.43" stroke="#0b0b08" stroke-width="3.1"/>
<line x1="560.3" y1="1614.16" x2="565.5" y2="1614.16" stroke="#0b0b08" stroke-width="3.1"/>
<line x1="895.05" y1="1614.16" x2="900.25" y2="1614.16" stroke="#0b0b08" stroke-width="3.1"/>
<text transform="translate(565.5 963.4) scale(0.95 1)" text-anchor="middle" font-size="33" fill="#0d0c09" stroke="#0d0c09">17</text>
<text transform="translate(631.41 963.4) scale(0.95 1)" text-anchor="middle" font-size="33" fill="#0d0c09" stroke="#0d0c09">18</text>
<text transform="translate(697.32 963.4) scale(0.95 1)" text-anchor="middle" font-size="33" fill="#0d0c09" stroke="#0d0c09">19</text>
<text transform="translate(763.23 963.4) scale(0.95 1)" text-anchor="middle" font-size="33" fill="#0d0c09" stroke="#0d0c09">20</text>
<text transform="translate(829.14 963.4) scale(0.95 1)" text-anchor="middle" font-size="33" fill="#0d0c09" stroke="#0d0c09">21</text>
<text transform="translate(895.05 963.4) scale(0.95 1)" text-anchor="middle" font-size="33" fill="#0d0c09" stroke="#0d0c09">22</text>
<line x1="448" y1="110.1" x2="446.4" y2="131.84" stroke="#0b0b08" stroke-width="2.34" stroke-linecap="round"/>
<line x1="446.4" y1="131.84" x2="445.3" y2="153.57" stroke="#0b0b08" stroke-width="2.3" stroke-linecap="round"/>
<line x1="445.3" y1="153.57" x2="443.7" y2="175.31" stroke="#0b0b08" stroke-width="2.34" stroke-linecap="round"/>
<line x1="443.7" y1="175.31" x2="436.7" y2="218.78" stroke="#0b0b08" stroke-width="2.5" stroke-linecap="round"/>
<line x1="436.7" y1="218.78" x2="421.7" y2="273.12" stroke="#0b0b08" stroke-width="2.71" stroke-linecap="round"/>
<line x1="421.7" y1="273.12" x2="398.7" y2="327.47" stroke="#0b0b08" stroke-width="2.94" stroke-linecap="round"/>
<line x1="398.7" y1="327.47" x2="367.5" y2="381.81" stroke="#0b0b08" stroke-width="3.15" stroke-linecap="round"/>
<line x1="367.5" y1="381.81" x2="336" y2="436.15" stroke="#0b0b08" stroke-width="3.15" stroke-linecap="round"/>
<line x1="336" y1="436.15" x2="271.1" y2="544.83" stroke="#0b0b08" stroke-width="3.17" stroke-linecap="round"/>
<line x1="271.1" y1="544.83" x2="212.6" y2="653.52" stroke="#0b0b08" stroke-width="3.1" stroke-linecap="round"/>
<line x1="212.6" y1="653.52" x2="165" y2="762.2" stroke="#0b0b08" stroke-width="2.96" stroke-linecap="round"/>
<path d="M448 105.5L452.6 110.1L448 114.7L443.4 110.1Z" fill="#0b0b08"/>
<path d="M446.4 127.24L451 131.84L446.4 136.44L441.8 131.84Z" fill="#0b0b08"/>
<path d="M445.3 148.97L449.9 153.57L445.3 158.17L440.7 153.57Z" fill="#0b0b08"/>
<path d="M443.7 170.71L448.3 175.31L443.7 179.91L439.1 175.31Z" fill="#0b0b08"/>
<path d="M436.7 214.18L441.3 218.78L436.7 223.38L432.1 218.78Z" fill="#0b0b08"/>
<path d="M421.7 268.52L426.3 273.12L421.7 277.73L417.1 273.12Z" fill="#0b0b08"/>
<path d="M398.7 322.87L403.3 327.47L398.7 332.07L394.1 327.47Z" fill="#0b0b08"/>
<path d="M367.5 377.21L372.1 381.81L367.5 386.41L362.9 381.81Z" fill="#0b0b08"/>
<path d="M336 431.55L340.6 436.15L336 440.75L331.4 436.15Z" fill="#0b0b08"/>
<path d="M271.1 540.23L275.7 544.83L271.1 549.43L266.5 544.83Z" fill="#0b0b08"/>
<path d="M212.6 648.92L217.2 653.52L212.6 658.12L208 653.52Z" fill="#0b0b08"/>
<path d="M165 757.6L169.6 762.2L165 766.8L160.4 762.2Z" fill="#0b0b08"/>
<line x1="829.5" y1="110.1" x2="834.5" y2="131.84" stroke="#0b0b08" stroke-width="2.63" stroke-linecap="round"/>
<line x1="834.5" y1="131.84" x2="824.9" y2="153.57" stroke="#0b0b08" stroke-width="2.97" stroke-linecap="round"/>
<line x1="824.9" y1="153.57" x2="816.9" y2="175.31" stroke="#0b0b08" stroke-width="2.86" stroke-linecap="round"/>
<line x1="816.9" y1="175.31" x2="809.3" y2="218.78" stroke="#0b0b08" stroke-width="2.53" stroke-linecap="round"/>
<line x1="809.3" y1="218.78" x2="794.7" y2="273.12" stroke="#0b0b08" stroke-width="2.69" stroke-linecap="round"/>
<line x1="794.7" y1="273.12" x2="748.9" y2="327.47" stroke="#0b0b08" stroke-width="3.42" stroke-linecap="round"/>
<line x1="748.9" y1="327.47" x2="721.2" y2="381.81" stroke="#0b0b08" stroke-width="3.06" stroke-linecap="round"/>
<line x1="721.2" y1="381.81" x2="704.1" y2="436.15" stroke="#0b0b08" stroke-width="2.77" stroke-linecap="round"/>
<line x1="704.1" y1="436.15" x2="680.4" y2="544.83" stroke="#0b0b08" stroke-width="2.6" stroke-linecap="round"/>
<line x1="680.4" y1="544.83" x2="676.4" y2="653.52" stroke="#0b0b08" stroke-width="2.27" stroke-linecap="round"/>
<line x1="676.4" y1="653.52" x2="625.5" y2="762.2" stroke="#0b0b08" stroke-width="3.01" stroke-linecap="round"/>
<path d="M829.5 105.5L834.1 110.1L829.5 114.7L824.9 110.1Z" fill="#0b0b08"/>
<path d="M834.5 127.24L839.1 131.84L834.5 136.44L829.9 131.84Z" fill="#0b0b08"/>
<path d="M824.9 148.97L829.5 153.57L824.9 158.17L820.3 153.57Z" fill="#0b0b08"/>
<path d="M816.9 170.71L821.5 175.31L816.9 179.91L812.3 175.31Z" fill="#0b0b08"/>
<path d="M809.3 214.18L813.9 218.78L809.3 223.38L804.7 218.78Z" fill="#0b0b08"/>
<path d="M794.7 268.52L799.3 273.12L794.7 277.73L790.1 273.12Z" fill="#0b0b08"/>
<path d="M748.9 322.87L753.5 327.47L748.9 332.07L744.3 327.47Z" fill="#0b0b08"/>
<path d="M721.2 377.21L725.8 381.81L721.2 386.41L716.6 381.81Z" fill="#0b0b08"/>
<path d="M704.1 431.55L708.7 436.15L704.1 440.75L699.5 436.15Z" fill="#0b0b08"/>
<path d="M680.4 540.23L685 544.83L680.4 549.43L675.8 544.83Z" fill="#0b0b08"/>
<path d="M676.4 648.92L681 653.52L676.4 658.12L671.8 653.52Z" fill="#0b0b08"/>
<path d="M625.5 757.6L630.1 762.2L625.5 766.8L620.9 762.2Z" fill="#0b0b08"/>
<line x1="1049.4" y1="110.1" x2="1047.2" y2="131.84" stroke="#0b0b08" stroke-width="2.39" stroke-linecap="round"/>
<line x1="1047.2" y1="131.84" x2="1053.2" y2="153.57" stroke="#0b0b08" stroke-width="2.71" stroke-linecap="round"/>
<line x1="1053.2" y1="153.57" x2="1061" y2="175.31" stroke="#0b0b08" stroke-width="2.84" stroke-linecap="round"/>
<line x1="1061" y1="175.31" x2="1070.1" y2="218.78" stroke="#0b0b08" stroke-width="2.59" stroke-linecap="round"/>
<line x1="1070.1" y1="218.78" x2="1088.2" y2="273.12" stroke="#0b0b08" stroke-width="2.8" stroke-linecap="round"/>
<line x1="1088.2" y1="273.12" x2="1139.1" y2="327.47" stroke="#0b0b08" stroke-width="3.5" stroke-linecap="round"/>
<line x1="1139.1" y1="327.47" x2="1172.6" y2="381.81" stroke="#0b0b08" stroke-width="3.2" stroke-linecap="round"/>
<line x1="1172.6" y1="381.81" x2="1195.3" y2="436.15" stroke="#0b0b08" stroke-width="2.93" stroke-linecap="round"/>
<line x1="1195.3" y1="436.15" x2="1223.7" y2="544.83" stroke="#0b0b08" stroke-width="2.68" stroke-linecap="round"/>
<line x1="1223.7" y1="544.83" x2="1228.3" y2="653.52" stroke="#0b0b08" stroke-width="2.28" stroke-linecap="round"/>
<line x1="1228.3" y1="653.52" x2="1283.9" y2="762.2" stroke="#0b0b08" stroke-width="3.07" stroke-linecap="round"/>
<path d="M1049.4 105.5L1054 110.1L1049.4 114.7L1044.8 110.1Z" fill="#0b0b08"/>
<path d="M1047.2 127.24L1051.8 131.84L1047.2 136.44L1042.6 131.84Z" fill="#0b0b08"/>
<path d="M1053.2 148.97L1057.8 153.57L1053.2 158.17L1048.6 153.57Z" fill="#0b0b08"/>
<path d="M1061 170.71L1065.6 175.31L1061 179.91L1056.4 175.31Z" fill="#0b0b08"/>
<path d="M1070.1 214.18L1074.7 218.78L1070.1 223.38L1065.5 218.78Z" fill="#0b0b08"/>
<path d="M1088.2 268.52L1092.8 273.12L1088.2 277.73L1083.6 273.12Z" fill="#0b0b08"/>
<path d="M1139.1 322.87L1143.7 327.47L1139.1 332.07L1134.5 327.47Z" fill="#0b0b08"/>
<path d="M1172.6 377.21L1177.2 381.81L1172.6 386.41L1168 381.81Z" fill="#0b0b08"/>
<path d="M1195.3 431.55L1199.9 436.15L1195.3 440.75L1190.7 436.15Z" fill="#0b0b08"/>
<path d="M1223.7 540.23L1228.3 544.83L1223.7 549.43L1219.1 544.83Z" fill="#0b0b08"/>
<path d="M1228.3 648.92L1232.9 653.52L1228.3 658.12L1223.7 653.52Z" fill="#0b0b08"/>
<path d="M1283.9 757.6L1288.5 762.2L1283.9 766.8L1279.3 762.2Z" fill="#0b0b08"/>
<line x1="420.6" y1="983.8" x2="419.2" y2="1005.54" stroke="#0b0b08" stroke-width="2.32" stroke-linecap="round"/>
<line x1="419.2" y1="1005.54" x2="417.7" y2="1027.27" stroke="#0b0b08" stroke-width="2.33" stroke-linecap="round"/>
<line x1="417.7" y1="1027.27" x2="416" y2="1049.01" stroke="#0b0b08" stroke-width="2.35" stroke-linecap="round"/>
<line x1="416" y1="1049.01" x2="407.8" y2="1092.48" stroke="#0b0b08" stroke-width="2.55" stroke-linecap="round"/>
<line x1="407.8" y1="1092.48" x2="402.7" y2="1146.83" stroke="#0b0b08" stroke-width="2.38" stroke-linecap="round"/>
<line x1="402.7" y1="1146.83" x2="376.1" y2="1201.17" stroke="#0b0b08" stroke-width="3.04" stroke-linecap="round"/>
<line x1="376.1" y1="1201.17" x2="347.9" y2="1255.51" stroke="#0b0b08" stroke-width="3.08" stroke-linecap="round"/>
<line x1="347.9" y1="1255.51" x2="319.4" y2="1309.85" stroke="#0b0b08" stroke-width="3.08" stroke-linecap="round"/>
<line x1="319.4" y1="1309.85" x2="267.3" y2="1418.53" stroke="#0b0b08" stroke-width="3.02" stroke-linecap="round"/>
<line x1="267.3" y1="1418.53" x2="223.7" y2="1527.22" stroke="#0b0b08" stroke-width="2.91" stroke-linecap="round"/>
<line x1="223.7" y1="1527.22" x2="187.2" y2="1635.9" stroke="#0b0b08" stroke-width="2.8" stroke-linecap="round"/>
<path d="M420.6 979.2L425.2 983.8L420.6 988.4L416 983.8Z" fill="#0b0b08"/>
<path d="M419.2 1000.94L423.8 1005.54L419.2 1010.14L414.6 1005.54Z" fill="#0b0b08"/>
<path d="M417.7 1022.67L422.3 1027.27L417.7 1031.87L413.1 1027.27Z" fill="#0b0b08"/>
<path d="M416 1044.41L420.6 1049.01L416 1053.61L411.4 1049.01Z" fill="#0b0b08"/>
<path d="M407.8 1087.88L412.4 1092.48L407.8 1097.08L403.2 1092.48Z" fill="#0b0b08"/>
<path d="M402.7 1142.23L407.3 1146.83L402.7 1151.42L398.1 1146.83Z" fill="#0b0b08"/>
<path d="M376.1 1196.57L380.7 1201.17L376.1 1205.77L371.5 1201.17Z" fill="#0b0b08"/>
<path d="M347.9 1250.91L352.5 1255.51L347.9 1260.11L343.3 1255.51Z" fill="#0b0b08"/>
<path d="M319.4 1305.25L324 1309.85L319.4 1314.45L314.8 1309.85Z" fill="#0b0b08"/>
<path d="M267.3 1413.93L271.9 1418.53L267.3 1423.13L262.7 1418.53Z" fill="#0b0b08"/>
<path d="M223.7 1522.62L228.3 1527.22L223.7 1531.82L219.1 1527.22Z" fill="#0b0b08"/>
<path d="M187.2 1631.3L191.8 1635.9L187.2 1640.5L182.6 1635.9Z" fill="#0b0b08"/>
<line x1="797.6" y1="983.8" x2="800.4" y2="1005.54" stroke="#0b0b08" stroke-width="2.15" stroke-linecap="round"/>
<line x1="800.4" y1="1005.54" x2="794.7" y2="1027.27" stroke="#0b0b08" stroke-width="2.36" stroke-linecap="round"/>
<line x1="794.7" y1="1027.27" x2="790.4" y2="1049.01" stroke="#0b0b08" stroke-width="2.26" stroke-linecap="round"/>
<line x1="790.4" y1="1049.01" x2="784.1" y2="1092.48" stroke="#0b0b08" stroke-width="2.18" stroke-linecap="round"/>
<line x1="784.1" y1="1092.48" x2="771.2" y2="1146.83" stroke="#0b0b08" stroke-width="2.32" stroke-linecap="round"/>
<line x1="771.2" y1="1146.83" x2="738.5" y2="1201.17" stroke="#0b0b08" stroke-width="2.77" stroke-linecap="round"/>
<line x1="738.5" y1="1201.17" x2="713.8" y2="1255.51" stroke="#0b0b08" stroke-width="2.61" stroke-linecap="round"/>
<line x1="713.8" y1="1255.51" x2="693" y2="1309.85" stroke="#0b0b08" stroke-width="2.52" stroke-linecap="round"/>
<line x1="693" y1="1309.85" x2="658.7" y2="1418.53" stroke="#0b0b08" stroke-width="2.43" stroke-linecap="round"/>
<line x1="658.7" y1="1418.53" x2="634.8" y2="1527.22" stroke="#0b0b08" stroke-width="2.29" stroke-linecap="round"/>
<line x1="634.8" y1="1527.22" x2="601.1" y2="1635.9" stroke="#0b0b08" stroke-width="2.42" stroke-linecap="round"/>
<path d="M797.6 979.2L802.2 983.8L797.6 988.4L793 983.8Z" fill="#0b0b08"/>
<path d="M800.4 1000.94L805 1005.54L800.4 1010.14L795.8 1005.54Z" fill="#0b0b08"/>
<path d="M794.7 1022.67L799.3 1027.27L794.7 1031.87L790.1 1027.27Z" fill="#0b0b08"/>
<path d="M790.4 1044.41L795 1049.01L790.4 1053.61L785.8 1049.01Z" fill="#0b0b08"/>
<path d="M784.1 1087.88L788.7 1092.48L784.1 1097.08L779.5 1092.48Z" fill="#0b0b08"/>
<path d="M771.2 1142.23L775.8 1146.83L771.2 1151.42L766.6 1146.83Z" fill="#0b0b08"/>
<path d="M738.5 1196.57L743.1 1201.17L738.5 1205.77L733.9 1201.17Z" fill="#0b0b08"/>
<path d="M713.8 1250.91L718.4 1255.51L713.8 1260.11L709.2 1255.51Z" fill="#0b0b08"/>
<path d="M693 1305.25L697.6 1309.85L693 1314.45L688.4 1309.85Z" fill="#0b0b08"/>
<path d="M658.7 1413.93L663.3 1418.53L658.7 1423.13L654.1 1418.53Z" fill="#0b0b08"/>
<path d="M634.8 1522.62L639.4 1527.22L634.8 1531.82L630.2 1527.22Z" fill="#0b0b08"/>
<path d="M601.1 1631.3L605.7 1635.9L601.1 1640.5L596.5 1635.9Z" fill="#0b0b08"/>
<line x1="829.6" y1="983.8" x2="831.6" y2="1005.54" stroke="#e0301f" stroke-width="2.1" stroke-linecap="round"/>
<line x1="831.6" y1="1005.54" x2="827.5" y2="1027.27" stroke="#e0301f" stroke-width="2.25" stroke-linecap="round"/>
<line x1="827.5" y1="1027.27" x2="824.4" y2="1049.01" stroke="#e0301f" stroke-width="2.18" stroke-linecap="round"/>
<line x1="824.4" y1="1049.01" x2="819.4" y2="1092.48" stroke="#e0301f" stroke-width="2.13" stroke-linecap="round"/>
<line x1="819.4" y1="1092.48" x2="809.3" y2="1146.83" stroke="#e0301f" stroke-width="2.24" stroke-linecap="round"/>
<line x1="809.3" y1="1146.83" x2="786.2" y2="1201.17" stroke="#e0301f" stroke-width="2.58" stroke-linecap="round"/>
<line x1="786.2" y1="1201.17" x2="767.8" y2="1255.51" stroke="#e0301f" stroke-width="2.46" stroke-linecap="round"/>
<line x1="767.8" y1="1255.51" x2="752.9" y2="1309.85" stroke="#e0301f" stroke-width="2.37" stroke-linecap="round"/>
<line x1="752.9" y1="1309.85" x2="727.7" y2="1418.53" stroke="#e0301f" stroke-width="2.31" stroke-linecap="round"/>
<line x1="727.7" y1="1418.53" x2="710.4" y2="1527.22" stroke="#e0301f" stroke-width="2.2" stroke-linecap="round"/>
<line x1="710.4" y1="1527.22" x2="685.4" y2="1635.9" stroke="#e0301f" stroke-width="2.31" stroke-linecap="round"/>
<path d="M829.6 979.2L834.2 983.8L829.6 988.4L825 983.8Z" fill="#e0301f"/>
<path d="M831.6 1000.94L836.2 1005.54L831.6 1010.14L827 1005.54Z" fill="#e0301f"/>
<path d="M827.5 1022.67L832.1 1027.27L827.5 1031.87L822.9 1027.27Z" fill="#e0301f"/>
<path d="M824.4 1044.41L829 1049.01L824.4 1053.61L819.8 1049.01Z" fill="#e0301f"/>
<path d="M819.4 1087.88L824 1092.48L819.4 1097.08L814.8 1092.48Z" fill="#e0301f"/>
<path d="M809.3 1142.23L813.9 1146.83L809.3 1151.42L804.7 1146.83Z" fill="#e0301f"/>
<path d="M786.2 1196.57L790.8 1201.17L786.2 1205.77L781.6 1201.17Z" fill="#e0301f"/>
<path d="M767.8 1250.91L772.4 1255.51L767.8 1260.11L763.2 1255.51Z" fill="#e0301f"/>
<path d="M752.9 1305.25L757.5 1309.85L752.9 1314.45L748.3 1309.85Z" fill="#e0301f"/>
<path d="M727.7 1413.93L732.3 1418.53L727.7 1423.13L723.1 1418.53Z" fill="#e0301f"/>
<path d="M710.4 1522.62L715 1527.22L710.4 1531.82L705.8 1527.22Z" fill="#e0301f"/>
<path d="M685.4 1631.3L690 1635.9L685.4 1640.5L680.8 1635.9Z" fill="#e0301f"/>
<circle cx="738.6" cy="984" r="2.8" fill="#3241a5"/>
<text x="152.8" y="409.8" font-size="33" fill="#0d0c09" stroke="#0d0c09">thermocline</text>
<text x="245.3" y="1106" font-size="33" font-style="italic" fill="#e0301f" stroke="#e0301f">G. ruber</text>
<text x="165.2" y="1195.9" font-size="33" font-style="italic" fill="#0d0c09" stroke="#0d0c09">G. sacculifer</text>
<text x="165" y="1227.4" font-size="33" fill="#0d0c09" stroke="#0d0c09">(with sac)</text>
<text transform="translate(38.6 577.5) rotate(-90)" font-size="50" fill="#0d0c09" stroke="#0d0c09">Water depth (m)</text>
<text transform="translate(36.4 1495.5) rotate(-90)" font-size="50" fill="#0d0c09" stroke="#0d0c09">Water depth (m)</text>
<text x="94.4" y="35.3" font-size="41.5" fill="#231815" stroke="#231815" font-weight="bold">a</text>
<text x="151.2" y="38.1" font-size="42" fill="#231815" stroke="#231815" >Temperature (°C)</text>
<text x="567.8" y="28.9" font-size="41.5" fill="#231815" stroke="#231815" font-weight="bold">b</text>
<text x="699.2" y="28.9" font-size="41.5" fill="#231815" stroke="#231815" >pH<tspan dy="13.6" font-size="23.8">total</tspan></text>
<text x="994.5" y="29.7" font-size="41.5" fill="#231815" stroke="#231815" font-weight="bold">c</text>
<text x="1063.5" y="34.5" font-size="41.5" fill="#231815" stroke="#231815" ><tspan font-style="italic">p</tspan>CO<tspan dy="13.3" font-size="23.8">2</tspan><tspan dy="-13.3"> (µatm)</tspan></text>
<text x="118.6" y="899.6" font-size="41.5" fill="#231815" stroke="#231815" font-weight="bold">d</text>
<text x="209.6" y="899.3" font-size="41.5" fill="#231815" stroke="#231815" >δ<tspan dx="0" dy="-13.4" font-size="24.3">18</tspan><tspan dx="-1.6" dy="13.4">O</tspan><tspan dx="1" dy="13.1" font-size="23.8">calcite</tspan><tspan dx="0.4" dy="-13.1"> (‰)</tspan></text>
<text x="552.4" y="898.9" font-size="41.5" fill="#231815" stroke="#231815" font-weight="bold">e</text>
<text x="609.6" y="902.3" font-size="41.5" fill="#231815" stroke="#231815" >δ<tspan dx="1" dy="-13.4" font-size="24.3">11</tspan><tspan dx="0.5" dy="13.4">B</tspan><tspan dx="0.5" dy="13.1" font-size="23.8">foraminifera</tspan><tspan dx="1.5" dy="-13.1"> (‰)</tspan></text>
</svg>
</body>
</html>
